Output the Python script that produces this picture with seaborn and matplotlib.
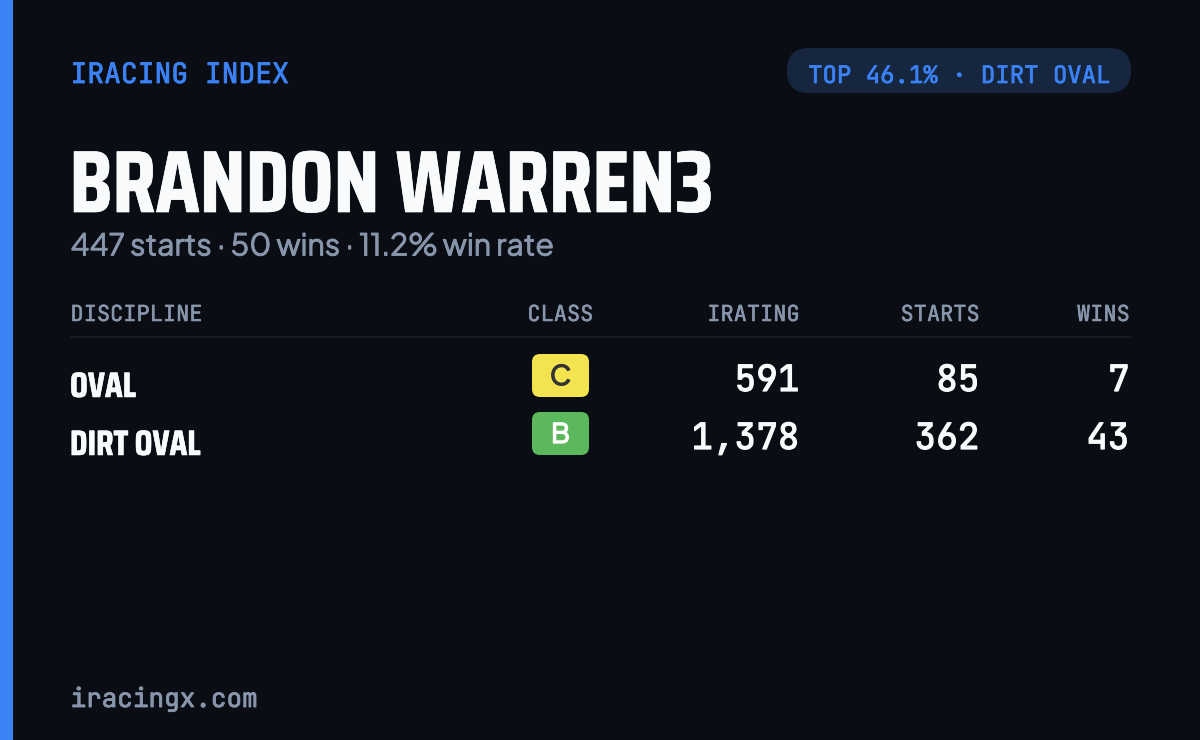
import matplotlib
matplotlib.use('Agg')
import matplotlib.pyplot as plt
from matplotlib.patches import FancyBboxPatch, Rectangle
from matplotlib.patheffects import withStroke
import seaborn as sns

disciplines = ['OVAL', 'DIRT OVAL']
classes = ['C', 'B']
iratings = [591, 1378]
starts = [85, 362]
wins = [7, 43]

BG = '#0a0d14'
BLUE = '#3b82f6'
GREY = '#8896ac'
WHITE = '#f8fafc'
class_colors = {'C': '#f2e34f', 'B': '#5cb85c'}
class_text = {'C': '#333333', 'B': '#ffffff'}

sns.set_theme(style='dark', rc={'figure.facecolor': BG, 'axes.facecolor': BG})

MONO = ['JetBrains Mono', 'DejaVu Sans Mono']
SANS = ['Plus Jakarta Sans', 'Inter']
COND = ['Saira Condensed', 'Roboto']


def px(size):
    return size * 0.72


# installed fonts only come in one weight here, a thin stroke thickens them
def heavy(color, width):
    return [withStroke(linewidth=width, foreground=color)]


fig, ax = plt.subplots(figsize=(12, 7.4), dpi=100)
fig.subplots_adjust(0, 0, 1, 1)
ax.set_xlim(0, 1200)
ax.set_ylim(740, 0)
ax.axis('off')

ax.add_patch(Rectangle((0, 0), 13, 740, color=BLUE, lw=0))
ax.text(70.5, 83, 'IRACING INDEX', family=MONO, fontsize=px(28), color=BLUE, va='baseline',
        path_effects=heavy(BLUE, 0.6))
ax.add_patch(FancyBboxPatch((787, 48), 344, 45, boxstyle='round,pad=0,rounding_size=22',
                            fc='#17263f', lw=0))
ax.text(1110, 83, 'TOP 46.1% · DIRT OVAL', family=MONO, fontsize=px(24), color=BLUE, va='baseline', ha='right',
        path_effects=heavy(BLUE, 0.5))

ax.text(69.5, 212, 'BRANDON WARREN3', family=COND, weight='bold', fontsize=px(87.8), color=WHITE, va='baseline',
        path_effects=heavy(WHITE, 0.5))
ax.text(70.5, 255.5, '447 starts · 50 wins · 11.2% win rate', family=SANS, fontsize=px(30.2), color=GREY, va='baseline',
        path_effects=heavy(GREY, 0.6))

for label, x, ha in [('DISCIPLINE', 70.5, 'left'), ('CLASS', 560.5, 'center'), ('IRATING', 800, 'right'),
                     ('STARTS', 980, 'right'), ('WINS', 1130, 'right')]:
    ax.text(x, 321, label, family=MONO, fontsize=px(22), color=GREY, va='baseline', ha=ha,
            path_effects=heavy(GREY, 0.4))
ax.plot([71, 1131], [337, 337], color='#151a24', lw=1.5)

for i, name in enumerate(disciplines):
    y = 378 + i * 58
    ax.text(70, y + 19, name, family=COND, weight='bold', fontsize=px(35.3), color=WHITE, va='baseline',
            path_effects=heavy(WHITE, 0.4))
    ax.add_patch(FancyBboxPatch((532, y - 24), 57, 43, boxstyle='round,pad=0,rounding_size=8',
                                fc=class_colors[classes[i]], lw=0))
    ax.text(560.5, y + 7, classes[i], family=SANS, weight='bold', fontsize=px(27),
            color=class_text[classes[i]], ha='center', va='baseline',
            path_effects=heavy(class_text[classes[i]], 1.0))
    for val, x in [(f'{iratings[i]:,}', 799.5), (f'{starts[i]}', 979.5), (f'{wins[i]}', 1129.5)]:
        ax.text(x, y + 13, val, family=MONO, fontsize=px(36), color=WHITE, ha='right', va='baseline',
                path_effects=heavy(WHITE, 0.9))

ax.text(70.5, 707, 'iracingx.com', family=MONO, fontsize=px(26), color=GREY, va='baseline',
        path_effects=heavy(GREY, 0.6))

fig.savefig('out.png', dpi=100, facecolor=BG)
